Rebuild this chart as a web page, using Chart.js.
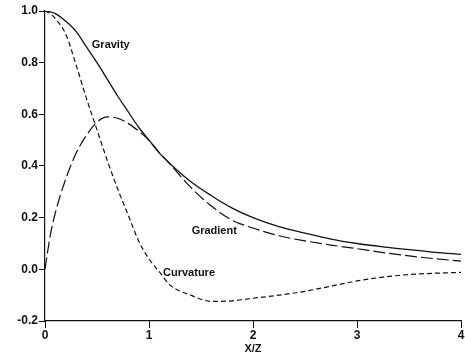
<!DOCTYPE html>
<html lang="en">
<head>
<meta charset="UTF-8">
<title>Gravity, gradient and curvature vs X/Z</title>
<script src="https://cdn.jsdelivr.net/npm/chart.js@4.4.0/dist/chart.umd.min.js"></script>
<style>
  *{margin:0;padding:0;box-sizing:border-box}
  html,body{background:#fff;width:465px;height:356px;overflow:hidden}
  canvas{display:block}
</style>
</head>
<body>
<canvas id="chart" width="465" height="356"></canvas>
<script>
/* values */
const xz=[0,0.05,0.1,0.2,0.3,0.4,0.5,0.6,0.7,0.8,0.9,1.0,1.1,1.2,1.4,1.6,1.8,2.0,2.25,2.5,2.75,3.0,3.25,3.5,3.75,4.0];
const gravity=[1.0,0.997,0.99,0.96,0.92,0.86,0.80,0.735,0.67,0.61,0.55,0.50,0.45,0.41,0.34,0.285,0.237,0.20,0.165,0.14,0.117,0.10,0.087,0.076,0.066,0.058];
const gradient=[0,0.13,0.22,0.35,0.45,0.52,0.57,0.59,0.585,0.565,0.535,0.50,0.452,0.408,0.318,0.245,0.19,0.16,0.13,0.11,0.094,0.08,0.065,0.052,0.041,0.032];
const curvature=[1.0,0.99,0.97,0.91,0.79,0.66,0.54,0.42,0.31,0.21,0.11,0.04,-0.01,-0.06,-0.10,-0.124,-0.122,-0.112,-0.10,-0.085,-0.065,-0.045,-0.03,-0.02,-0.015,-0.012];
const xTicks=[0,1,2,3,4];
const yTicks=[-0.2,0,0.2,0.4,0.6,0.8,1.0];
const curveLabels=[{text:'Gravity',x:0.45,y:0.87},{text:'Gradient',x:1.41,y:0.148},{text:'Curvature',x:1.135,y:-0.014}];

const ink='#111';
const font='"Liberation Sans", Arial, sans-serif';
const pts=vals=>vals.map((v,i)=>({x:xz[i],y:v}));

/* curve names drawn next to the lines */
const labelPlugin={id:'curveLabels',afterDatasetsDraw(c){const {ctx,scales:{x,y}}=c;ctx.save();ctx.fillStyle=ink;ctx.font='bold 11px '+font;ctx.textBaseline='middle';
  curveLabels.forEach(l=>ctx.fillText(l.text,x.getPixelForValue(l.x),y.getPixelForValue(l.y)));ctx.restore();}};

new Chart('chart',{type:'line',
  data:{datasets:[
    {label:'Gravity',data:pts(gravity),borderColor:ink,borderWidth:1.3},
    {label:'Gradient',data:pts(gradient),borderColor:ink,borderWidth:1.2,borderDash:[12,4]},
    {label:'Curvature',data:pts(curvature),borderColor:ink,borderWidth:1.2,borderDash:[5,3]}
  ]},
  options:{responsive:false,animation:false,devicePixelRatio:1,
    layout:{padding:{top:11,right:4,left:0,bottom:0}},
    elements:{point:{radius:0},line:{cubicInterpolationMode:'monotone',fill:false}},
    plugins:{legend:{display:false},tooltip:{enabled:false}},
    scales:{
      x:{type:'linear',min:0,max:4,
        afterBuildTicks:s=>{s.ticks=xTicks.map(v=>({value:v}))},
        afterFit:s=>{s.height=35},
        grid:{drawOnChartArea:false,drawTicks:true,tickLength:7,color:ink,lineWidth:1},
        border:{display:true,color:ink,width:1.2,dash:[48,7,3,7]},
        ticks:{color:ink,padding:0,maxRotation:0,font:{family:font,size:12,weight:'bold'},callback:v=>String(v)},
        title:{display:true,text:'X/Z',color:ink,padding:0,font:{family:font,size:11,weight:'bold'}}},
      y:{type:'linear',min:-0.2,max:1.0,position:'left',
        afterBuildTicks:s=>{s.ticks=yTicks.map(v=>({value:v}))},
        afterFit:s=>{s.width=45},
        grid:{drawOnChartArea:false,drawTicks:true,tickLength:6,color:ink,lineWidth:1},
        border:{display:true,color:ink,width:1.2},
        ticks:{color:ink,padding:1,font:{family:font,size:12,weight:'bold'},callback:v=>v.toFixed(1)}}
    }},
  plugins:[labelPlugin]});
</script>
</body>
</html>
